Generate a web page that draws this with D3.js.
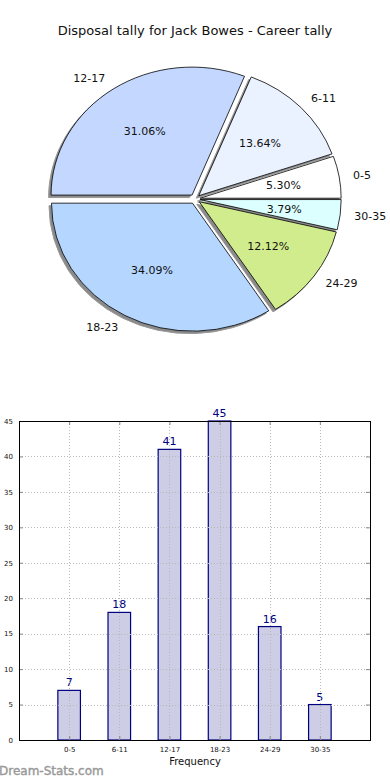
<!DOCTYPE html>
<html lang="en">
<head>
<meta charset="UTF-8">
<title>Disposal tally</title>
<style>
  body { margin: 0; background: #fff; }
  svg { display: block; font-family: "DejaVu Sans", sans-serif; }
</style>
</head>
<body>
<div id="chart"></div>
<script src="https://cdnjs.cloudflare.com/ajax/libs/d3/7.8.2/d3.min.js"></script>
<script>
// chart data
var categories = ["0-5", "6-11", "12-17", "18-23", "24-29", "30-35"];
var tally = [7, 18, 41, 45, 16, 5];
var sliceColors = ["#ffffff", "#ebf2ff", "#c4d8ff", "#b5d6ff", "#d1ec8c", "#dcffff"];
var yTicks = [0, 5, 10, 15, 20, 25, 30, 35, 40, 45];

var W = 390, H = 780;
var svg = d3.select("#chart").append("svg")
  .attr("width", W)
  .attr("height", H);

svg.append("text")
  .attr("x", 195)
  .attr("y", 35)
  .attr("text-anchor", "middle")
  .attr("font-size", 13)
  .attr("fill", "#111")
  .text("Disposal tally for Jack Bowes - Career tally");

// ---- pie (matplotlib style: counter-clockwise from east, exploded, shadow) ----
var cx = 195, cy = 199, rx = 141, ry = 128, explode = 0.037;
var total = d3.sum(tally);
var pieData = d3.pie().sort(null).startAngle(0).endAngle(2 * Math.PI)(tally);

var arc = d3.arc().innerRadius(0).outerRadius(1);

var slices = pieData.map(function(d, i) {
  // d3 angles run clockwise from 12 o'clock; convert to ccw-from-east
  var t1 = d.startAngle, t2 = d.endAngle;
  var tm = (t1 + t2) / 2;
  return {
    i: i,
    a0: Math.PI / 2 - t2,
    a1: Math.PI / 2 - t1,
    dx: Math.cos(tm) * explode * rx,
    dy: -Math.sin(tm) * explode * ry,
    cos: Math.cos(tm),
    sin: Math.sin(tm)
  };
});

var pie = svg.append("g");

// shadows
pie.selectAll(".shadow")
  .data(slices)
  .enter()
  .append("path")
  .attr("class", "shadow")
  .attr("transform", function(s) {
    return "translate(" + (cx + s.dx - 2.5) + "," + (cy + s.dy + 2.5) + ") scale(" + rx + "," + ry + ")";
  })
  .attr("d", function(s) { return arc({startAngle: s.a0, endAngle: s.a1}); })
  .attr("fill", "#8a8a8a")
  .attr("stroke", "#999")
  .attr("stroke-width", 1)
  .attr("vector-effect", "non-scaling-stroke");

pie.selectAll(".slice")
  .data(slices)
  .enter()
  .append("path")
  .attr("class", "slice")
  .attr("transform", function(s) {
    return "translate(" + (cx + s.dx) + "," + (cy + s.dy) + ") scale(" + rx + "," + ry + ")";
  })
  .attr("d", function(s) { return arc({startAngle: s.a0, endAngle: s.a1}); })
  .attr("fill", function(s) { return sliceColors[s.i]; })
  .attr("stroke", "#000")
  .attr("stroke-width", 0.8)
  .attr("vector-effect", "non-scaling-stroke");

pie.selectAll(".lbl")
  .data(slices)
  .enter()
  .append("text")
  .attr("class", "lbl")
  .attr("x", function(s) { return cx + s.dx + 1.1 * rx * s.cos; })
  .attr("y", function(s) { return cy + s.dy - 1.1 * ry * s.sin; })
  .attr("dy", "0.35em")
  .attr("text-anchor", function(s) { return s.cos < 0 ? "end" : "start"; })
  .attr("font-size", 11)
  .attr("fill", "#111")
  .text(function(s) { return categories[s.i]; });

pie.selectAll(".pct")
  .data(slices)
  .enter()
  .append("text")
  .attr("class", "pct")
  .attr("x", function(s) { return cx + s.dx + 0.6 * rx * s.cos; })
  .attr("y", function(s) { return cy + s.dy - 0.6 * ry * s.sin; })
  .attr("dy", "0.35em")
  .attr("text-anchor", "middle")
  .attr("font-size", 11)
  .attr("fill", "#111")
  .text(function(s) { return (tally[s.i] / total * 100).toFixed(2) + "%"; });

// ---- bar chart ----
var axLeft = 19, axRight = 370, axTop = 421, axBottom = 740;
var x = d3.scaleLinear().domain([-1, 6]).range([axLeft, axRight]);
var y = d3.scaleLinear().domain([0, 45]).range([axBottom, axTop]);
var barW = 0.45;

var bars = svg.append("g");

bars.selectAll("rect")
  .data(tally)
  .enter()
  .append("rect")
  .attr("x", function(d, i) { return x(i - barW / 2); })
  .attr("y", function(d) { return y(d); })
  .attr("width", function() { return x(barW) - x(0); })
  .attr("height", function(d) { return y(0) - y(d); })
  .attr("fill", "#cdcde6")
  .attr("stroke", "#000080")
  .attr("stroke-width", 1.2);

// grid over bars
var grid = svg.append("g")
  .attr("stroke", "#b8b8b8")
  .attr("stroke-width", 1)
  .attr("stroke-dasharray", "1,2");
grid.selectAll(".gy")
  .data(yTicks.slice(1, -1))
  .enter()
  .append("line")
  .attr("x1", axLeft).attr("x2", axRight)
  .attr("y1", function(d) { return Math.round(y(d)) + 0.5; })
  .attr("y2", function(d) { return Math.round(y(d)) + 0.5; });
grid.selectAll(".gx")
  .data(categories)
  .enter()
  .append("line")
  .attr("x1", function(d, i) { return Math.round(x(i)) + 0.5; })
  .attr("x2", function(d, i) { return Math.round(x(i)) + 0.5; })
  .attr("y1", axTop).attr("y2", axBottom);

// axes (ticks pointing inward on all four sides)
var axL = d3.axisLeft(y).tickValues(yTicks).tickSizeInner(-4).tickSizeOuter(0).tickPadding(6);
var axR = d3.axisRight(y).tickValues(yTicks).tickSizeInner(-4).tickSizeOuter(0).tickFormat("");
var axB = d3.axisBottom(x).tickValues(d3.range(categories.length))
  .tickFormat(function(i) { return categories[i]; })
  .tickSizeInner(-4).tickSizeOuter(0).tickPadding(7);
var axT = d3.axisTop(x).tickValues(d3.range(categories.length))
  .tickFormat("").tickSizeInner(-4).tickSizeOuter(0);

function styleAxis(g) {
  g.select(".domain").remove();
  g.selectAll(".tick line").attr("stroke", "#888");
  g.selectAll("text").attr("font-size", 7).attr("fill", "#111").attr("font-family", "DejaVu Sans, sans-serif");
}
svg.append("g").attr("transform", "translate(" + axLeft + ",0)").call(axL).call(styleAxis);
svg.append("g").attr("transform", "translate(" + axRight + ",0)").call(axR).call(styleAxis);
svg.append("g").attr("transform", "translate(0," + axBottom + ")").call(axB).call(styleAxis);
svg.append("g").attr("transform", "translate(0," + axTop + ")").call(axT).call(styleAxis);

svg.append("rect")
  .attr("x", axLeft + 0.5).attr("y", axTop + 0.5)
  .attr("width", axRight - axLeft).attr("height", axBottom - axTop)
  .attr("fill", "none")
  .attr("stroke", "#000")
  .attr("stroke-width", 1);

bars.selectAll(".val")
  .data(tally)
  .enter()
  .append("text")
  .attr("class", "val")
  .attr("x", function(d, i) { return x(i); })
  .attr("y", function(d) { return y(d) - 4; })
  .attr("text-anchor", "middle")
  .attr("font-size", 11)
  .attr("fill", "#000080")
  .text(function(d) { return d; });

svg.append("text")
  .attr("x", 195)
  .attr("y", 765)
  .attr("text-anchor", "middle")
  .attr("font-size", 10)
  .attr("fill", "#111")
  .text("Frequency");

svg.append("text")
  .attr("x", -1)
  .attr("y", 775)
  .attr("font-size", 12)
  .attr("fill", "#999")
  .style("paint-order", "stroke")
  .attr("stroke", "#999")
  .attr("stroke-width", 0.4)
  .text("Dream-Stats.com");
</script>
</body>
</html>
